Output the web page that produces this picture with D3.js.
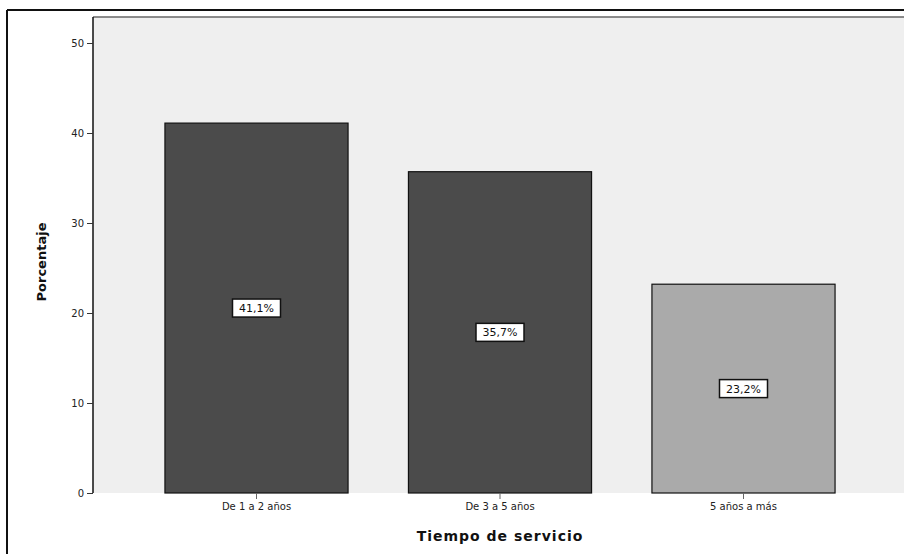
<!DOCTYPE html>
<html>
<head>
<meta charset="utf-8">
<script src="https://cdn.jsdelivr.net/npm/d3@7"></script>
<style>
  html, body { margin: 0; padding: 0; background: #fff; }
  svg { display: block; }
</style>
</head>
<body>
<svg id="chart" width="904" height="554"></svg>
<script>
// Tiempo de servicio — porcentaje por categoría
const categories = ["De 1 a 2 años", "De 3 a 5 años", "5 años a más"];
const percents = [41.1, 35.7, 23.2];
const valueLabels = ["41,1%", "35,7%", "23,2%"];
const barFills = ["#4b4b4b", "#4b4b4b", "#aaaaaa"];
const yTicks = [0, 10, 20, 30, 40, 50];

const svg = d3.select("#chart");
const W = 904, H = 554;

// outer frame (left and top edges visible)
svg.append("line").attr("x1", 7).attr("x2", W).attr("y1", 10).attr("y2", 10)
  .attr("stroke", "#111").attr("stroke-width", 2);
svg.append("line").attr("x1", 7).attr("x2", 7).attr("y1", 10).attr("y2", H)
  .attr("stroke", "#111").attr("stroke-width", 2);

const plot = { left: 93, top: 17, right: W, bottom: 493 };

// plot background
svg.append("rect")
  .attr("x", plot.left).attr("y", plot.top)
  .attr("width", plot.right - plot.left).attr("height", plot.bottom - plot.top)
  .attr("fill", "#efefef");
svg.append("line").attr("x1", plot.left).attr("x2", plot.right)
  .attr("y1", plot.top).attr("y2", plot.top)
  .attr("stroke", "#666").attr("stroke-width", 1.5);

const y = d3.scaleLinear().domain([0, 52.89]).range([plot.bottom, plot.top]);
const x = d3.scaleBand().domain(categories)
  .range([134.75, 865.25]).paddingInner(0.248).paddingOuter(0.124);

// bars
svg.append("g").selectAll("rect").data(categories).join("rect")
  .attr("x", d => x(d))
  .attr("y", (d, i) => y(percents[i]))
  .attr("width", x.bandwidth())
  .attr("height", (d, i) => y(0) - y(percents[i]))
  .attr("fill", (d, i) => barFills[i])
  .attr("stroke", "#111").attr("stroke-width", 1.2);

// value labels in boxes at mid-height of each bar
const lbl = svg.append("g").selectAll("g").data(categories).join("g")
  .attr("transform", (d, i) => `translate(${x(d) + x.bandwidth() / 2},${(y(percents[i]) + y(0)) / 2})`);
lbl.append("rect")
  .attr("x", -24).attr("y", -9).attr("width", 48).attr("height", 18)
  .attr("fill", "#fff").attr("stroke", "#111").attr("stroke-width", 1.5);
lbl.append("text")
  .attr("text-anchor", "middle").attr("dy", "0.36em")
  .attr("font-family", "DejaVu Sans, sans-serif").attr("font-size", 11)
  .attr("fill", "#111")
  .text((d, i) => valueLabels[i]);

// y axis
const yAxis = svg.append("g")
  .attr("transform", `translate(${plot.left},0)`)
  .call(d3.axisLeft(y).tickValues(yTicks).tickSize(6).tickSizeOuter(0).tickFormat(d3.format("d")));
yAxis.select(".domain").attr("stroke", "#111").attr("stroke-width", 1.5)
  .attr("d", `M0,${plot.top}V${plot.bottom}`);
yAxis.selectAll(".tick line").attr("stroke", "#333");
yAxis.selectAll(".tick text")
  .attr("font-family", "DejaVu Sans, sans-serif").attr("font-size", 10)
  .attr("fill", "#222").attr("x", -9);

// x axis
const xAxis = svg.append("g")
  .attr("transform", `translate(0,${plot.bottom})`)
  .call(d3.axisBottom(x).tickSize(6).tickSizeOuter(0));
xAxis.select(".domain").remove();
xAxis.selectAll(".tick line").attr("stroke", "#666");
xAxis.selectAll(".tick text")
  .attr("font-family", "DejaVu Sans, sans-serif").attr("font-size", 10)
  .attr("fill", "#222").attr("y", 10);

// axis titles
svg.append("text")
  .attr("x", 500).attr("y", 541)
  .attr("text-anchor", "middle")
  .attr("font-family", "DejaVu Sans, sans-serif").attr("font-size", 14)
  .attr("font-weight", "bold").attr("letter-spacing", 1)
  .attr("fill", "#111")
  .text("Tiempo de servicio");

svg.append("text")
  .attr("transform", "translate(46,262) rotate(-90)")
  .attr("text-anchor", "middle")
  .attr("font-family", "DejaVu Sans, sans-serif").attr("font-size", 13)
  .attr("font-weight", "bold")
  .attr("fill", "#111")
  .text("Porcentaje");
</script>
</body>
</html>
